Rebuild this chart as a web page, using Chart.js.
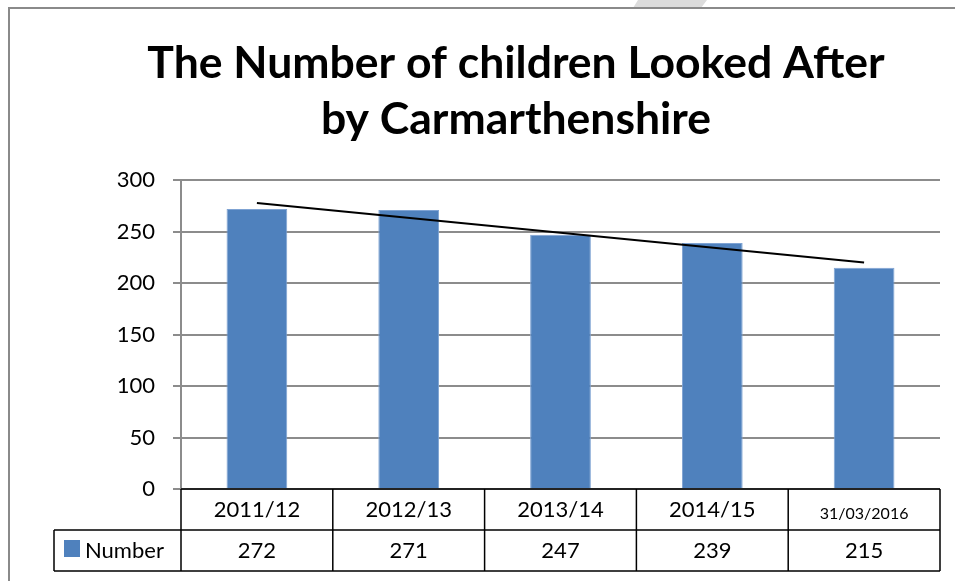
<!DOCTYPE html>
<html>
<head>
<meta charset="utf-8">
<script src="https://cdn.jsdelivr.net/npm/chart.js@4.4.1/dist/chart.umd.min.js"></script>
<style>
  html, body { margin: 0; padding: 0; background: #fff; }
  #wrap { width: 955px; height: 581px; position: relative; }
</style>
</head>
<body>
<div id="wrap"><canvas id="chart" width="955" height="581"></canvas></div>
<script>
// chart data
const years = ['2011/12', '2012/13', '2013/14', '2014/15', '31/03/2016'];
const numbers = [272, 271, 247, 239, 215];
// trend line end points (first and last category)
const trendLine = [278, null, null, null, 220];
const yTicks = [0, 50, 100, 150, 200, 250, 300];

const font = 'Lato, "Open Sans", sans-serif';
const barBlue = '#4f81bd';

// draws the frame, the grey mark at the top and the data table under the axis
const tablePlugin = {
    id: 'dataTable',
    beforeDraw(chart) {
        const ctx = chart.ctx;
        ctx.save();
        ctx.fillStyle = '#dcdcdc';
        ctx.beginPath();
        ctx.moveTo(638, 0); ctx.lineTo(707, 0); ctx.lineTo(701, 8); ctx.lineTo(633, 8);
        ctx.closePath();
        ctx.fill();
        ctx.strokeStyle = '#8a8a8a';
        ctx.lineWidth = 2;
        ctx.beginPath();
        ctx.moveTo(9, 581); ctx.lineTo(9, 8); ctx.lineTo(955, 8);
        ctx.stroke();
        ctx.restore();
    },
    afterDraw(chart) {
        const ctx = chart.ctx;
        const area = chart.chartArea;
        const step = (area.right - area.left) / years.length;
        const row1 = area.bottom, row2 = area.bottom + 41, row3 = area.bottom + 82;
        const legendLeft = 54;

        ctx.save();
        ctx.strokeStyle = '#000';
        ctx.lineWidth = 1.5;
        ctx.beginPath();
        ctx.moveTo(area.left, row1); ctx.lineTo(area.right, row1);
        ctx.moveTo(legendLeft, row2); ctx.lineTo(area.right, row2);
        ctx.moveTo(legendLeft, row3); ctx.lineTo(area.right, row3);
        ctx.moveTo(legendLeft, row2); ctx.lineTo(legendLeft, row3);
        for (let i = 0; i <= years.length; i++) {
            const x = area.left + i * step;
            ctx.moveTo(x, row1); ctx.lineTo(x, row3);
        }
        ctx.stroke();

        ctx.fillStyle = '#000';
        ctx.textAlign = 'center';
        ctx.textBaseline = 'middle';
        years.forEach((label, i) => {
            const x = area.left + (i + 0.5) * step;
            const small = label.length > 7;
            ctx.font = (small ? '16px ' : '22px ') + font;
            ctx.fillText(label, x, (row1 + row2) / 2 + (small ? 4 : 0));
            ctx.font = '22px ' + font;
            ctx.fillText(String(numbers[i]), x, (row2 + row3) / 2);
        });

        // legend key
        ctx.fillStyle = barBlue;
        ctx.fillRect(64, row2 + 10, 16, 17);
        ctx.fillStyle = '#000';
        ctx.textAlign = 'left';
        ctx.font = '22px ' + font;
        ctx.fillText('Number', 85, (row2 + row3) / 2);
        ctx.restore();
    }
};

const myChart = document.getElementById('chart');

let chart = new Chart(myChart, {
    type: 'bar',
    data: {
        labels: years,
        datasets: [{
            type: 'line',
            label: 'Trend',
            data: trendLine,
            spanGaps: true,
            borderColor: '#000',
            borderWidth: 2,
            pointRadius: 0,
            fill: false,
            order: 0
        }, {
            label: 'Number',
            data: numbers,
            backgroundColor: barBlue,
            borderColor: '#7fa3d3',
            borderWidth: 1,
            categoryPercentage: 1,
            barPercentage: 0.4,
            order: 1
        }]
    },
    options: {
        responsive: false,
        animation: false,
        // left padding moves the title centre over the plot like the original
        layout: { padding: { left: 92, right: 15, top: 0, bottom: 0 } },
        plugins: {
            legend: { display: false },
            tooltip: { enabled: false },
            title: {
                display: true,
                text: ['The Number of children Looked After', 'by Carmarthenshire'],
                color: '#000',
                font: { family: font, size: 44.5, weight: 'bold', lineHeight: 1.25 },
                padding: { top: 36, bottom: 33 }
            }
        },
        scales: {
            x: {
                grid: { display: false },
                border: { display: false },
                ticks: { display: false },
                afterFit: (scale) => { scale.height = 92; }
            },
            y: {
                min: 0,
                max: 300,
                afterBuildTicks: (scale) => { scale.ticks = yTicks.map(v => ({ value: v })); },
                ticks: {
                    color: '#000',
                    font: { family: font, size: 22 },
                    padding: 18
                },
                grid: { color: '#8c8c8c', lineWidth: 2, tickLength: 8 },
                border: { color: '#8c8c8c', width: 2 },
                afterFit: (scale) => { scale.width = 89; }
            }
        }
    },
    plugins: [tablePlugin]
});
</script>
</body>
</html>
